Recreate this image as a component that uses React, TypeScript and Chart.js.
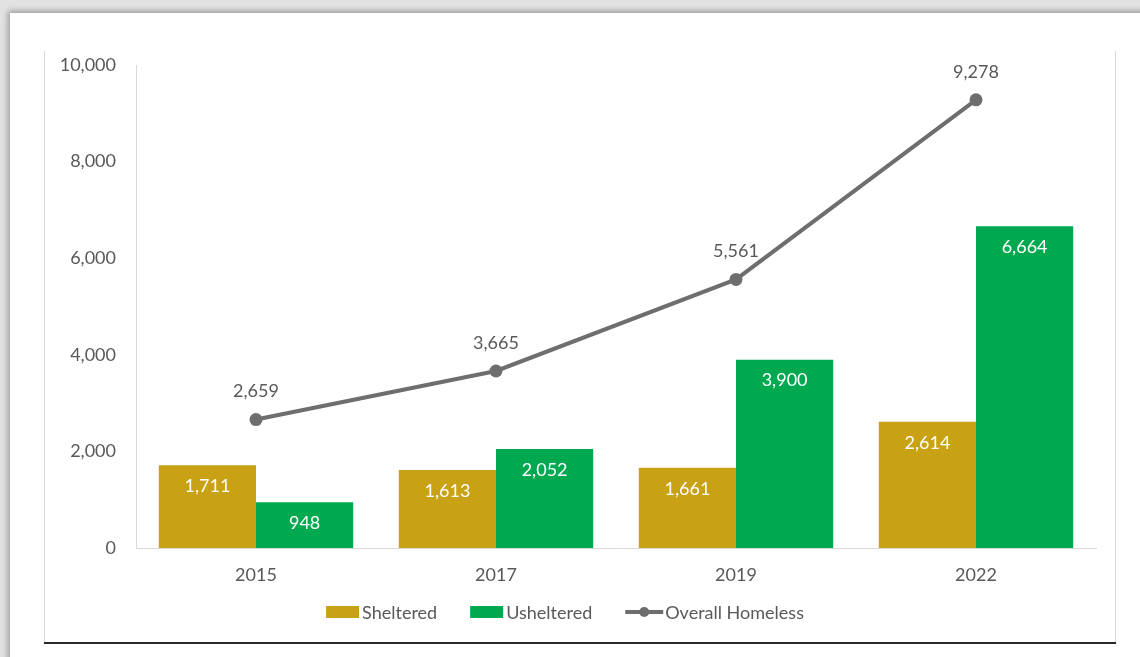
import React, { useEffect, useRef } from "react";
import { Chart, registerables } from "chart.js";

Chart.register(...registerables);

const years = ["2015", "2017", "2019", "2022"];
const sheltered = [1711, 1613, 1661, 2614];
const unsheltered = [948, 2052, 3900, 6664];
const overall = [2659, 3665, 5561, 9278];

const FONT = "Lato, 'Open Sans', sans-serif";
const FS = 18;
const TEXT = "#595959";
const C_SHEL = "#C9A115";
const C_UNSH = "#00A94F";
const C_LINE = "#6E6E6E";

const fmt = (v: number) => v.toLocaleString("en-US");

const labelPlugin = {
  id: "valueLabels",
  afterDatasetsDraw(chart: any) {
    const ctx = chart.ctx;
    ctx.save();
    ctx.font = `${FS}px ${FONT}`;
    ctx.textAlign = "center";
    ctx.textBaseline = "middle";
    chart.data.datasets.forEach((ds: any, di: number) => {
      const meta = chart.getDatasetMeta(di);
      meta.data.forEach((el: any, i: number) => {
        const v = ds.data[i];
        if (ds.type === "line") {
          ctx.fillStyle = TEXT;
          ctx.fillText(fmt(v), el.x, el.y - 28);
        } else {
          ctx.fillStyle = "#ffffff";
          ctx.fillText(fmt(v), el.x, el.y + 21);
        }
      });
    });
    ctx.restore();
  },
};

const legendPlugin = {
  id: "customLegend",
  afterDraw(chart: any) {
    const ctx = chart.ctx;
    ctx.save();
    ctx.font = `${FS}px ${FONT}`;
    ctx.textBaseline = "middle";
    ctx.textAlign = "left";
    const items = chart.data.datasets.map((ds: any) => ({
      text: ds.label,
      type: ds.type,
      color: ds.type === "line" ? ds.borderColor : ds.backgroundColor,
      w: ctx.measureText(ds.label).width,
    }));
    const markW = (it: any) => (it.type === "line" ? 38 : 33);
    const markGap = (it: any) => (it.type === "line" ? 2 : 3);
    const gap = 33;
    let total = 0;
    items.forEach((it: any, i: number) => {
      total += markW(it) + markGap(it) + it.w + (i < items.length - 1 ? gap : 0);
    });
    let x = 565 - total / 2;
    const y = 612;
    items.forEach((it: any) => {
      if (it.type === "line") {
        ctx.strokeStyle = it.color;
        ctx.lineWidth = 4;
        ctx.beginPath();
        ctx.moveTo(x, y);
        ctx.lineTo(x + 38, y);
        ctx.stroke();
        ctx.fillStyle = it.color;
        ctx.beginPath();
        ctx.arc(x + 19, y, 5, 0, Math.PI * 2);
        ctx.fill();
      } else {
        ctx.fillStyle = it.color;
        ctx.fillRect(x, y - 6, 33, 12);
      }
      x += markW(it) + markGap(it);
      ctx.fillStyle = TEXT;
      ctx.fillText(it.text, x, y + 1);
      x += it.w + gap;
    });
    ctx.restore();
  },
};

export default function App() {
  const ref = useRef<HTMLCanvasElement | null>(null);

  useEffect(() => {
    if (!ref.current) return;
    const chart = new Chart(ref.current, {
      type: "bar",
      data: {
        labels: years,
        datasets: [
          {
            type: "bar",
            label: "Sheltered",
            data: sheltered,
            backgroundColor: C_SHEL,
            order: 1,
          },
          {
            type: "bar",
            label: "Usheltered",
            data: unsheltered,
            backgroundColor: C_UNSH,
            order: 1,
          },
          {
            type: "line",
            label: "Overall Homeless",
            data: overall,
            borderColor: C_LINE,
            backgroundColor: C_LINE,
            borderWidth: 4,
            pointRadius: 6.5,
            pointBackgroundColor: C_LINE,
            pointBorderWidth: 0,
            order: 0,
          } as any,
        ],
      },
      options: {
        animation: false,
        responsive: false,
        maintainAspectRatio: false,
        layout: { padding: { left: 0, right: 44, top: 65, bottom: 63 } },
        datasets: {
          bar: { categoryPercentage: 0.81, barPercentage: 1 },
        },
        plugins: {
          legend: { display: false },
          tooltip: { enabled: false },
        },
        scales: {
          x: {
            grid: { display: false, drawTicks: false },
            border: { display: true, color: "#D9D9D9", width: 1 },
            ticks: { color: TEXT, font: { family: FONT, size: FS }, padding: 16 },
            afterFit: (s: any) => {
              s.height = 46;
            },
          },
          y: {
            min: 0,
            max: 10000,
            grid: { display: false, drawTicks: false },
            border: { display: true, color: "#D9D9D9", width: 1 },
            ticks: {
              stepSize: 2000,
              color: TEXT,
              font: { family: FONT, size: FS },
              padding: 20,
              callback: (v: any) => fmt(Number(v)),
            },
            afterFit: (s: any) => {
              s.width = 136;
            },
          },
        },
      },
      plugins: [labelPlugin, legendPlugin],
    });
    return () => chart.destroy();
  }, []);

  return (
    <div
      style={{
        position: "fixed",
        left: 0,
        top: 0,
        width: 1140,
        height: 657,
        overflow: "hidden",
        background: "#e2e2e2",
      }}
    >
      <div
        style={{
          position: "absolute",
          left: 10,
          top: 13,
          width: 1200,
          height: 700,
          background: "#ffffff",
          boxShadow: "0 0 6px 2px rgba(0,0,0,0.32)",
        }}
      />
      <div style={{ position: "absolute", left: 44, top: 51, width: 1, height: 592, background: "#d9d9d9" }} />
      <div style={{ position: "absolute", left: 1115, top: 51, width: 1, height: 592, background: "#d9d9d9" }} />
      <div style={{ position: "absolute", left: 44, top: 642, width: 1072, height: 2, background: "#2a2a2a" }} />
      <canvas
        ref={ref}
        width={1140}
        height={657}
        style={{ position: "absolute", left: 0, top: 0, width: 1140, height: 657 }}
      />
    </div>
  );
}
